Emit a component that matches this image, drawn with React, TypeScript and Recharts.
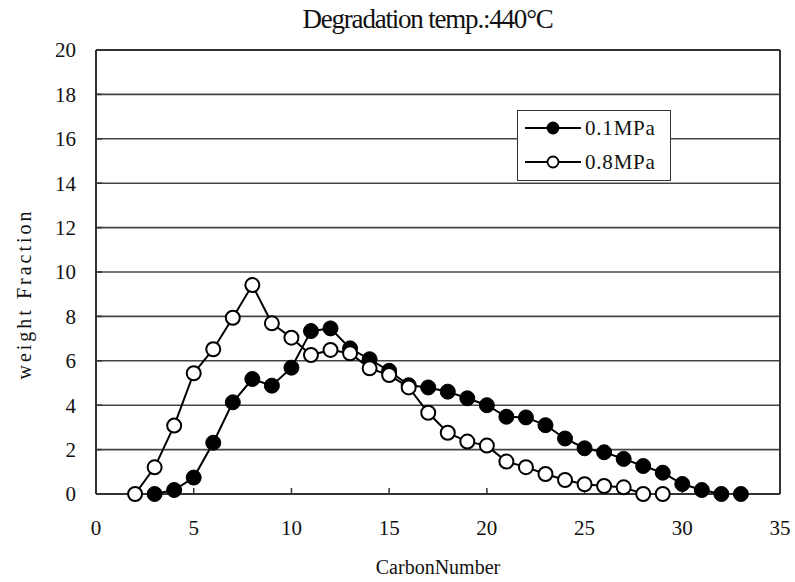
import {
  LineChart,
  Line,
  XAxis,
  YAxis,
  CartesianGrid,
  ReferenceLine,
  Legend,
  Label,
} from "recharts";

const carbon01 = [3, 4, 5, 6, 7, 8, 9, 10, 11, 12, 13, 14, 15, 16, 17, 18, 19, 20, 21, 22, 23, 24, 25, 26, 27, 28, 29, 30, 31, 32, 33];
const fraction01 = [0, 0.18, 0.74, 2.31, 4.13, 5.18, 4.88, 5.69, 7.34, 7.46, 6.56, 6.07, 5.55, 4.9, 4.8, 4.61, 4.31, 4.0, 3.48, 3.45, 3.1, 2.5, 2.06, 1.88, 1.58, 1.26, 0.96, 0.45, 0.18, 0, 0];

const carbon08 = [2, 3, 4, 5, 6, 7, 8, 9, 10, 11, 12, 13, 14, 15, 16, 17, 18, 19, 20, 21, 22, 23, 24, 25, 26, 27, 28, 29];
const fraction08 = [0, 1.2, 3.08, 5.44, 6.52, 7.94, 9.41, 7.69, 7.04, 6.26, 6.49, 6.34, 5.66, 5.36, 4.8, 3.66, 2.76, 2.36, 2.18, 1.46, 1.21, 0.9, 0.63, 0.44, 0.36, 0.3, 0, 0];

const xTicks = [0, 5, 10, 15, 20, 25, 30, 35];
const yTicks = [0, 2, 4, 6, 8, 10, 12, 14, 16, 18, 20];

const seriesNames = ["0.1MPa", "0.8MPa"];

const data01 = carbon01.map((c, i) => ({ carbon: c, value: fraction01[i] }));
const data08 = carbon08.map((c, i) => ({ carbon: c, value: fraction08[i] }));

const FONT = "'Liberation Serif', 'DejaVu Serif', serif";

function LegendBox() {
  return (
    <div
      style={{
        width: 152,
        height: 69,
        border: "1.5px solid #333",
        background: "#fff",
        fontFamily: FONT,
        fontSize: 21,
        letterSpacing: 0.8,
        color: "#111",
      }}
    >
      {seriesNames.map((name, i) => (
        <div key={name} style={{ display: "flex", alignItems: "center", height: 34 }}>
          <svg width={62} height={20} style={{ marginLeft: 5 }}>
            <line x1={2} y1={10} x2={58} y2={10} stroke="#000" strokeWidth={2} />
            <circle
              cx={30}
              cy={10}
              r={5.5}
              fill={i === 0 ? "#000" : "#fff"}
              stroke="#000"
              strokeWidth={1.8}
            />
          </svg>
          <span style={{ marginLeft: 0 }}>{name}</span>
        </div>
      ))}
    </div>
  );
}

export default function App() {
  return (
    <div
      style={{
        position: "absolute",
        left: 0,
        top: 0,
        width: 795,
        height: 582,
        background: "#fff",
        fontFamily: FONT,
      }}
    >
      <div
        style={{
          position: "absolute",
          left: 0,
          width: 855,
          top: 4,
          textAlign: "center",
          fontSize: 27,
          letterSpacing: -1.2,
          color: "#111",
        }}
      >
        Degradation temp.:440°C
      </div>
      <LineChart
        width={795}
        height={582}
        margin={{ top: 50, right: 15, bottom: 0, left: 0 }}
      >
        <CartesianGrid vertical={false} stroke="#444" strokeWidth={1.6} />
        <XAxis
          type="number"
          dataKey="carbon"
          domain={[0, 35]}
          ticks={xTicks}
          height={88}
          allowDuplicatedCategory={false}
          axisLine={{ stroke: "#333", strokeWidth: 2 }}
          tickLine={{ stroke: "#333", strokeWidth: 1.5 }}
          tickSize={-6}
          tickMargin={32}
          tick={{ fill: "#111", fontSize: 21, fontFamily: FONT }}
        >
          <Label
            value="CarbonNumber"
            position="insideBottom"
            offset={8}
            style={{ fill: "#111", fontSize: 20, fontFamily: FONT }}
          />
        </XAxis>
        <YAxis
          type="number"
          domain={[0, 20]}
          ticks={yTicks}
          width={96}
          axisLine={{ stroke: "#333", strokeWidth: 2 }}
          tickLine={{ stroke: "#333", strokeWidth: 1.5 }}
          tickSize={-6}
          tickMargin={26}
          tick={{ fill: "#111", fontSize: 21, fontFamily: FONT }}
        >
          <Label
            content={() => (
              <text
                x={31}
                y={294}
                transform="rotate(-90 31 294)"
                textAnchor="middle"
                fill="#111"
                fontSize={20}
                letterSpacing={3}
                fontFamily={FONT}
              >
                weight Fraction
              </text>
            )}
          />
        </YAxis>
        <ReferenceLine x={35} stroke="#333" strokeWidth={2} />
        <ReferenceLine y={20} stroke="#333" strokeWidth={2} />
        <Line
          data={data01}
          dataKey="value"
          name={seriesNames[0]}
          type="linear"
          stroke="#000"
          strokeWidth={2}
          dot={{ r: 7.5, fill: "#000", stroke: "#000", strokeWidth: 1 }}
          isAnimationActive={false}
        />
        <Line
          data={data08}
          dataKey="value"
          name={seriesNames[1]}
          type="linear"
          stroke="#000"
          strokeWidth={2}
          dot={{ r: 7, fill: "#fff", stroke: "#000", strokeWidth: 2 }}
          isAnimationActive={false}
        />
        <Legend
          layout="vertical"
          align="center"
          verticalAlign="middle"
          content={() => <LegendBox />}
          wrapperStyle={{ left: 517, top: 110, width: 154, height: 71 }}
        />
      </LineChart>
    </div>
  );
}
